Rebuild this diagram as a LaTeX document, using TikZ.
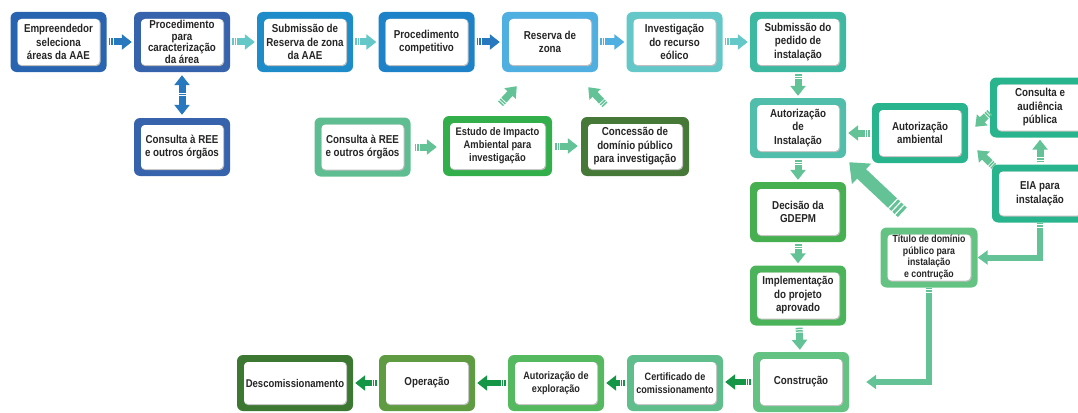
\documentclass[tikz,border=0pt]{standalone}
\usepackage{fontspec}
\setmainfont{Liberation Sans}[FakeStretch=0.85]
\usepackage{tikz}
\usetikzlibrary{positioning}
\usetikzlibrary{arrows.meta}
\usetikzlibrary{calc}

\definecolor{blueA}{RGB}{40,100,175}
\definecolor{blueB}{RGB}{55,98,172}
\definecolor{blueC}{RGB}{30,140,200}
\definecolor{blueD}{RGB}{30,130,200}
\definecolor{blueE}{RGB}{80,175,225}
\definecolor{tealA}{RGB}{100,200,200}
\definecolor{tealB}{RGB}{60,185,160}
\definecolor{tealC}{RGB}{80,190,170}
\definecolor{tealD}{RGB}{40,180,140}
\definecolor{greenA}{RGB}{95,190,145}
\definecolor{greenB}{RGB}{50,175,75}
\definecolor{greenDark}{RGB}{70,120,55}
\definecolor{greenC}{RGB}{70,175,80}
\definecolor{greenD}{RGB}{75,180,90}
\definecolor{greenE}{RGB}{100,195,130}
\definecolor{greenF}{RGB}{95,190,140}
\definecolor{greenG}{RGB}{85,185,95}
\definecolor{olive}{RGB}{95,155,65}
\definecolor{oliveDark}{RGB}{60,120,50}

\definecolor{arrBlue}{RGB}{40,120,190}
\definecolor{arrTeal}{RGB}{100,200,200}
\definecolor{arrLight}{RGB}{80,175,225}
\definecolor{arrGreen}{RGB}{100,195,150}
\definecolor{arrDark}{RGB}{20,150,70}

\tikzset{stage/.style={fill=#1,rounded corners=6pt,minimum width=96pt,minimum height=60pt,
  inner sep=1pt,align=center,text=black!85,font=\bfseries\fontsize{11.5}{13.5}\selectfont,
  path picture={
    \fill[black!25,rounded corners=4pt] ([shift={(7pt,6pt)}]path picture bounding box.south west)
      rectangle ([shift={(-6pt,-7pt)}]path picture bounding box.north east);
    \fill[white,rounded corners=4pt] ([shift={(7pt,7pt)}]path picture bounding box.south west)
      rectangle ([shift={(-7pt,-7pt)}]path picture bounding box.north east);}}}
\tikzstyle{flow} = [line width=7pt,-{Triangle[length=10pt,width=15pt]},
  dash pattern=on 1.5pt off 1pt on 1.5pt off 1pt on 300pt,shorten <=2pt,shorten >=2pt]
\tikzstyle{twoway} = [line width=7pt,{Triangle[length=10pt,width=15pt]}-{Triangle[length=10pt,width=15pt]},
  dash pattern=on 8pt off 1pt on 1.5pt off 1pt on 300pt,shorten <=3pt,shorten >=3pt]
\tikzstyle{bigflow} = [line width=13pt,-{Triangle[length=17pt,width=27pt]},
  dash pattern=on 3pt off 1.5pt on 3pt off 1.5pt on 3pt off 1.5pt on 300pt]
\tikzstyle{feed} = [line width=6pt,-{Triangle[length=10pt,width=14pt]},
  dash pattern=on 1.5pt off 1pt on 1.5pt off 1pt on 400pt]

\begin{document}
\begin{tikzpicture}[x=1pt,y=-1pt]

  \useasboundingbox (0,0) rectangle (1078,412);

  % first line of stages
  \foreach \x/\y/\name/\col/\label in {58.5/42/emp/blueA/{Empreendedor\\seleciona\\áreas da AAE},
      305/42/subres/blueC/{Submissão de\\Reserva de zona\\da AAE},
      426.5/42/comp/blueD/{Procedimento\\competitivo},
      550/42/reserva/blueE/{Reserva de\\zona},
      674.5/42/invest/tealA/{Investigação\\do recurso\\eólico},
      798/42/subped/tealB/{Submissão do\\pedido de\\instalação}}
          \node[stage=\col] (\name) at (\x,\y) {\label};
  \node[stage=blueB,font=\bfseries\fontsize{11.5}{11.5}\selectfont] (proc) at (182,42)
      {Procedimento\\para\\caracterização\\da área};

  % consultation and investigation
  \node[stage=blueB,minimum height=58pt] (consB) at (182,147) {Consulta à REE\\e outros órgãos};
  \node[stage=greenA,minimum height=59pt] (consG) at (362.5,147) {Consulta à REE\\e outros órgãos};
  \node[stage=greenB,minimum width=109pt,font=\bfseries\fontsize{11}{13}\selectfont] (estudo) at (497.5,146)
      {Estudo de Impacto\\Ambiental para\\investigação};
  \node[stage=greenDark,minimum width=108pt,minimum height=59pt] (conc) at (635,146.5)
      {Concessão de\\domínio público\\para investigação};

  % installation column
  \foreach \x/\y/\name/\col/\label in {798/128/autInst/tealC/{Autorização\\de\\Instalação},
      798/212/decisao/greenC/{Decisão da\\GDEPM},
      798/295.5/implem/greenD/{Implementação\\do projeto\\aprovado},
      801/382/constr/greenE/{Construção}}
          \node[stage=\col] (\name) at (\x,\y) {\label};

  \node[stage=tealD] (autAmb) at (920,133) {Autorização\\ambiental};
  \node[stage=tealD,minimum width=100pt] (consAud) at (1040,107.5) {Consulta e\\audiência\\pública};
  \node[stage=tealD,minimum height=58pt] (eia) at (1040,193.5) {EIA para\\instalação};
  \node[stage=greenE,minimum width=97pt,font=\bfseries\fontsize{10.3}{11.5}\selectfont] (titulo) at (929,257.5)
      {Título de domínio\\público para\\instalação\\e contrução};

  % last line of stages
  \foreach \x/\y/\name/\col/\label in {675/383/certif/greenF/{Certificado de\\comissionamento},
      556/383/autExp/greenG/{Autorização de\\exploração}}
          \node[stage=\col,minimum height=56pt,font=\bfseries\fontsize{10.7}{13}\selectfont] (\name) at (\x,\y) {\label};
  \node[stage=olive,minimum height=56pt] (operacao) at (427,383) {Operação};
  \node[stage=oliveDark,minimum width=116pt,minimum height=56pt,font=\bfseries\fontsize{11.2}{13}\selectfont]
      (descom) at (295,383) {Descomissionamento};

  % arrows
  \foreach \source/\dest/\col in {emp/proc/arrBlue, proc/subres/arrTeal, subres/comp/arrTeal,
      comp/reserva/arrBlue, reserva/invest/arrLight, invest/subped/arrTeal,
      subped/autInst/arrGreen, autInst/decisao/arrGreen, decisao/implem/arrGreen, implem/constr/arrGreen}
         \draw[flow,draw=\col] (\source) -- (\dest);

  \draw[twoway,draw=arrBlue] (proc) -- (consB);

  \draw[flow,draw=arrGreen,shorten <=4pt,shorten >=6pt] (consG.east) -- (consG.east -| estudo.west);
  \draw[flow,draw=arrGreen,shorten <=3pt,shorten >=3pt] (estudo.east) -- (estudo.east -| conc.west);
  \draw[flow,draw=arrGreen,shorten <=0pt,shorten >=0pt] ([xshift=3pt,yshift=12pt]estudo.north)
      -- ([xshift=15pt,yshift=-14pt]reserva.south west);
  \draw[flow,draw=arrGreen,shorten <=0pt,shorten >=0pt] ([xshift=-30pt,yshift=12pt]conc.north)
      -- ([xshift=-10pt,yshift=-15pt]reserva.south east);

  \draw[flow,draw=arrGreen] (autAmb.west) -- (autAmb.west -| autInst.east);
  \draw[flow,draw=arrGreen] (eia.north) -- (consAud.south);
  \draw[flow,draw=arrGreen,shorten <=0pt,shorten >=0pt] ([yshift=-5pt]consAud.west)
      -- ([xshift=7pt,yshift=-24pt]autAmb.north east);
  \draw[flow,draw=arrGreen,shorten <=0pt,shorten >=0pt] ([xshift=2pt,yshift=-2pt]eia.north west)
      -- ([xshift=9pt,yshift=13pt]autAmb.south east);
  \draw[bigflow,draw=arrGreen] ([xshift=22pt,yshift=15pt]titulo.north west)
      -- ([xshift=3pt,yshift=-4pt]autInst.south east);

  \draw[feed,draw=arrGreen] (eia.south) |- (titulo.east);
  \draw[feed,draw=arrGreen,shorten >=17pt] (titulo.south) |- (constr.east);

  \foreach \source/\dest in {constr/certif, certif/autExp, autExp/operacao, operacao/descom}
         \draw[flow,draw=arrDark,line width=6pt] (\source.west) -- (\source.west -| \dest.east);

\end{tikzpicture}
\end{document}
